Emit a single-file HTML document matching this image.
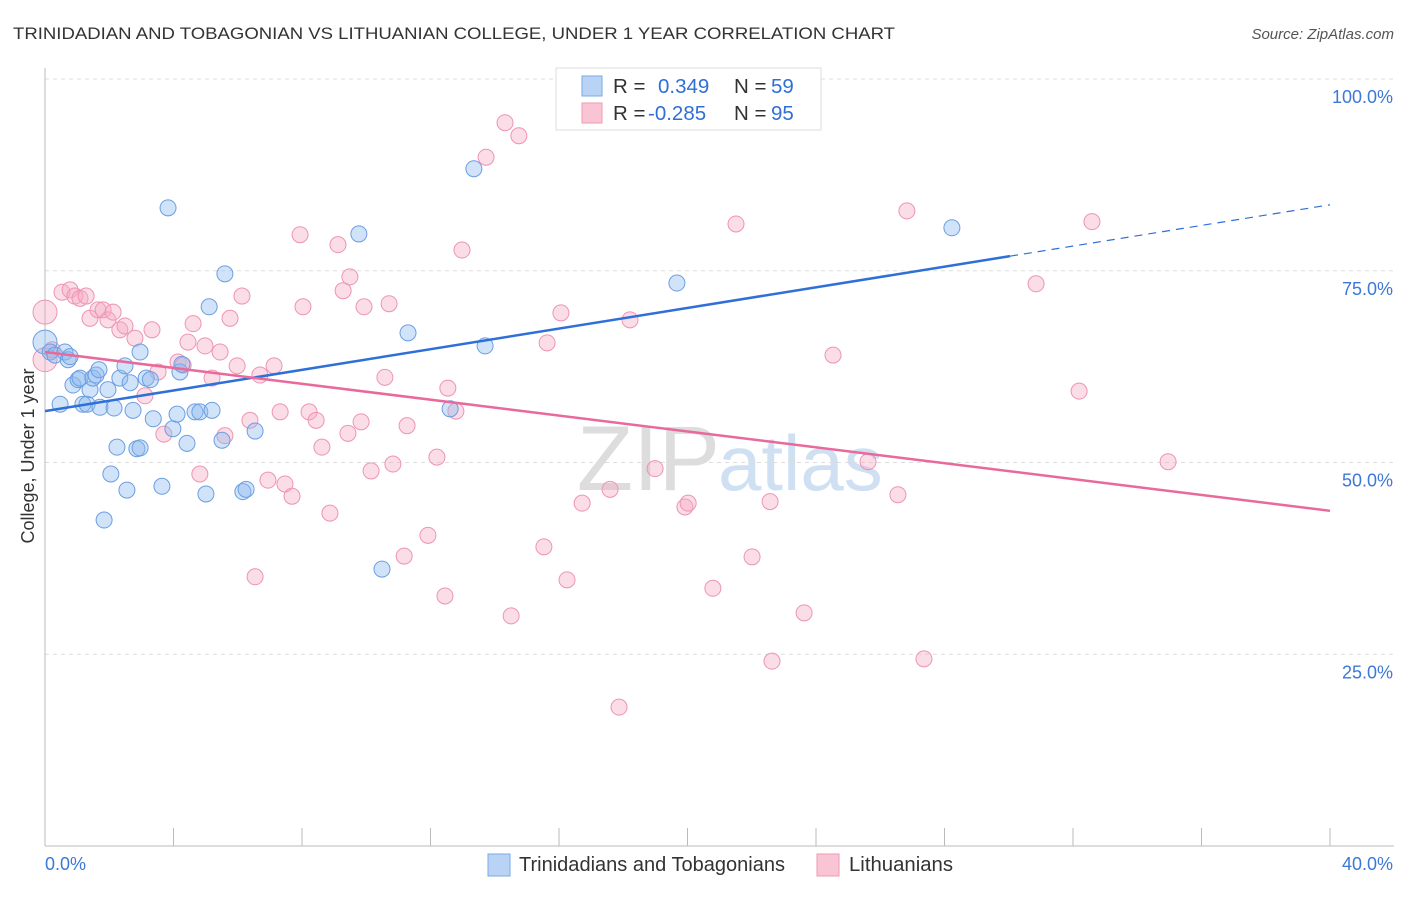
<!DOCTYPE html>
<html><head><meta charset="utf-8"><style>
body{margin:0;background:#fff;font-family:"Liberation Sans",sans-serif;}
svg text{font-family:"Liberation Sans",sans-serif;}
</style></head><body>
<svg id="chart" width="1406" height="892" xmlns="http://www.w3.org/2000/svg">
<text x="13" y="39" font-size="17" fill="#333" textLength="882" lengthAdjust="spacingAndGlyphs">TRINIDADIAN AND TOBAGONIAN VS LITHUANIAN COLLEGE, UNDER 1 YEAR CORRELATION CHART</text>
<text x="1394" y="39" font-size="15" fill="#555" text-anchor="end" font-style="italic">Source: ZipAtlas.com</text>
<text x="720" y="490" font-size="92" fill="#ddd" text-anchor="end" font-family="Liberation Serif">ZIP</text>
<text x="718" y="490" font-size="78" fill="#cfe0f3">atlas</text>
<g id="grid"></g>
<g id="axes"></g>
<g id="marks"></g>
<text transform="translate(34,456) rotate(-90)" font-size="18" fill="#333" text-anchor="middle">College, Under 1 year</text>
<g>
<rect x="556" y="68" width="265" height="62" fill="#fff" stroke="#ddd"/>
<rect x="582" y="76" width="20" height="20" fill="#b9d3f5" stroke="#7aa8e6"/>
<rect x="582" y="103" width="20" height="20" fill="#f9c5d4" stroke="#ee9ab5"/>
<text x="613" y="93" font-size="20.5" fill="#333">R = <tspan x="658" fill="#2f6fd6">0.349</tspan><tspan x="734">N = </tspan><tspan x="771" fill="#2f6fd6">59</tspan></text>
<text x="613" y="120" font-size="20.5" fill="#333">R = <tspan x="648" fill="#2f6fd6">-0.285</tspan><tspan x="734">N = </tspan><tspan x="771" fill="#2f6fd6">95</tspan></text>
</g>
<g>
<rect x="488" y="854" width="22" height="22" fill="#b9d3f5" stroke="#7aa8e6"/>
<text x="519" y="871" font-size="20" fill="#333" textLength="266" lengthAdjust="spacingAndGlyphs">Trinidadians and Tobagonians</text>
<rect x="817" y="854" width="22" height="22" fill="#f9c5d4" stroke="#ee9ab5"/>
<text x="849" y="871" font-size="20" fill="#333" textLength="104" lengthAdjust="spacingAndGlyphs">Lithuanians</text>
</g>
</svg>
<script>
const blueX=[0,0.16,0.31,0.47,0.62,0.72,0.78,0.87,1.03,1.09,1.18,1.31,1.40,1.49,1.59,1.68,1.71,1.84,1.96,2.05,2.15,2.24,2.33,2.49,2.55,2.65,2.74,2.86,2.96,2.96,3.15,3.28,3.37,3.64,3.83,3.98,4.11,4.20,4.26,4.42,4.67,4.82,5.01,5.11,5.20,5.51,5.60,6.16,6.26,6.54,9.77,10.49,11.30,12.61,13.35,13.70,19.67,28.23];
const blueY=[65.7,64.4,64.0,57.6,64.4,63.4,63.8,60.1,60.8,61.0,57.6,57.6,59.5,61.0,61.4,62.1,57.2,42.5,59.5,48.5,57.1,52.0,61.0,62.6,46.4,60.4,56.8,51.8,64.4,51.9,61.0,60.8,55.7,46.9,83.2,54.4,56.3,61.8,62.8,52.5,56.6,56.6,45.9,70.3,56.8,52.9,74.6,46.2,46.5,54.1,79.8,36.1,66.9,57.0,88.3,65.2,73.4,80.6];
const pinkX=[0,0,0.22,0.53,0.78,0.93,1.09,1.28,1.40,1.65,1.81,1.96,2.12,2.33,2.49,2.80,3.11,3.33,3.52,3.70,4.14,4.30,4.45,4.61,4.82,4.98,5.20,5.45,5.60,5.76,5.98,6.13,6.38,6.54,6.69,6.94,7.13,7.32,7.47,7.69,7.94,8.03,8.22,8.44,8.62,8.87,9.12,9.28,9.43,9.49,9.84,9.93,10.15,10.58,10.71,10.83,11.18,11.27,11.92,12.20,12.45,12.54,12.79,12.98,13.73,14.32,14.51,14.75,15.53,15.63,16.06,16.25,16.72,17.59,17.87,18.21,18.99,19.92,20.02,20.79,21.51,22.01,22.57,22.63,23.63,24.53,25.62,26.55,26.83,27.36,30.85,32.19,32.59,34.96];
const pinkY=[69.6,63.4,64.7,72.2,72.5,71.7,71.4,71.7,68.8,69.9,69.9,68.6,69.6,67.3,67.8,66.2,58.7,67.3,61.8,53.7,63.1,62.7,65.7,68.1,48.5,65.2,61.0,64.4,53.5,68.8,62.6,71.7,55.5,35.1,61.4,47.7,62.6,56.6,47.2,45.6,79.7,70.3,56.6,55.5,52.0,43.4,78.4,72.4,53.8,74.2,55.3,70.3,48.9,61.1,70.7,49.8,37.8,54.8,40.5,50.7,32.6,59.7,56.7,77.7,89.8,94.3,30.0,92.6,39.0,65.6,69.5,34.7,44.7,46.5,18.1,68.6,49.2,44.2,44.7,33.6,81.1,37.7,44.9,24.1,30.4,64.0,50.1,45.8,82.8,24.4,73.3,59.3,81.4,50.1];
const blueTrend=[56.7,83.6];
const blueSolidEnd=30.04;
const pinkTrend=[64.4,43.7];
const yTicks=[100,75,50,25];
const xTickCount=10;
const NS="http://www.w3.org/2000/svg";
const X0=45,X1=1330,Y0=846,Y100=79;
function sx(v){return X0+(v/40)*(X1-X0);}
function sy(v){return Y0-(v/100)*(Y0-Y100);}
function mk(tag,attrs,parent){const e=document.createElementNS(NS,tag);for(const k in attrs)e.setAttribute(k,attrs[k]);document.getElementById(parent).appendChild(e);return e;}
yTicks.forEach(t=>{
  const l=mk('line',{x1:X0,x2:1394,y1:sy(t),y2:sy(t),stroke:'#ddd','stroke-dasharray':'4,4'},'grid');
  
  
  const tx=mk('text',{x:1393,y:sy(t)+24,'font-size':18,fill:'#3b78d8','text-anchor':'end'},'grid');
  tx.textContent=t.toFixed(1)+'%';
  
  
});
mk('line',{x1:X0,x2:X0,y1:68,y2:Y0,stroke:'#bbb'},'axes');
const xa=mk('line',{x1:X0,x2:1394,y1:Y0,y2:Y0,stroke:'#bbb'},'axes');


for(let i=0;i<=xTickCount;i++){
  const tk=mk('line',{x1:sx(i*4),x2:sx(i*4),y1:828,y2:Y0,stroke:'#bbb'},'axes');
  
  
}
const xl0=mk('text',{x:45,y:870,'font-size':18,fill:'#3b78d8'},'axes');xl0.textContent='0.0%';


const xl1=mk('text',{x:1393,y:870,'font-size':18,fill:'#3b78d8','text-anchor':'end'},'axes');xl1.textContent='40.0%';


function dots(xs,ys,fill,stroke,name){
  xs.forEach((x,i)=>{
    const big=(x===0);
    const c=mk('circle',{cx:sx(x),cy:sy(ys[i]),r:big?12:8,fill:fill,stroke:stroke,'stroke-width':1},'marks');
    
    
  });
}
dots(pinkX,pinkY,'rgba(246,170,195,0.4)','#ee94b2','lithuanian-point');
dots(blueX,blueY,'rgba(140,185,240,0.4)','#6b9ee2','trinidadian-point');
const by=x=>blueTrend[0]+(blueTrend[1]-blueTrend[0])*x/40;
const bl=mk('line',{x1:sx(0),y1:sy(by(0)),x2:sx(blueSolidEnd),y2:sy(by(blueSolidEnd)),stroke:'#2e6fd8','stroke-width':2.5},'marks');


const bd=mk('line',{x1:sx(blueSolidEnd),y1:sy(by(blueSolidEnd)),x2:sx(40),y2:sy(by(40)),stroke:'#2e6fd8','stroke-width':1.2,'stroke-dasharray':'8,6'},'marks');


const pl=mk('line',{x1:sx(0),y1:sy(pinkTrend[0]),x2:sx(40),y2:sy(pinkTrend[1]),stroke:'#e8699a','stroke-width':2.5},'marks');


</script>
</body></html>
